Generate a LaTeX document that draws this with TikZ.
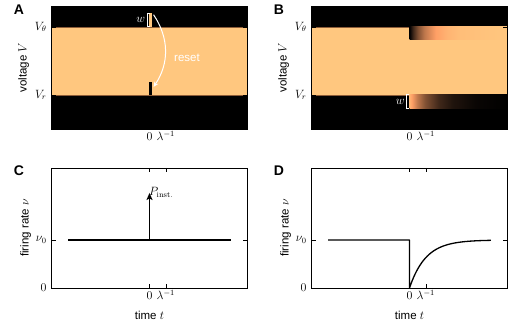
\documentclass[tikz,border=0pt]{standalone}
\usepackage{fontspec}
\newfontfamily\labfont{Liberation Sans}
\usepackage{xcolor}
\usepackage{tikz}
\usetikzlibrary{arrows.meta}

\definecolor{band}{rgb}{1,0.781,0.4975}
\definecolor{edge}{rgb}{0.55,0.36,0.22}

\pgfdeclarehorizontalshading{recover}{100bp}{rgb(0bp)=(0,0,0); rgb(25bp)=(0,0,0); rgb(26.86bp)=(0.25,0.156,0.1); rgb(29.25bp)=(0.5,0.3125,0.199); rgb(32.63bp)=(0.75,0.469,0.2985); rgb(38.42bp)=(1,0.625,0.398); rgb(44.17bp)=(1,0.703,0.448); rgb(50bp)=(1,0.742,0.473); rgb(75bp)=(1,0.781,0.4975); rgb(100bp)=(1,0.781,0.4975)}
\pgfdeclarehorizontalshading{escape}{100bp}{rgb(0bp)=(1,0.703,0.448); rgb(25bp)=(1,0.703,0.448); rgb(26.18bp)=(1,0.625,0.398); rgb(29.05bp)=(0.75,0.469,0.2985); rgb(33.11bp)=(0.5,0.3125,0.199); rgb(40.04bp)=(0.25,0.156,0.1); rgb(46.97bp)=(0.125,0.078,0.05); rgb(59bp)=(0.0375,0.023,0.015); rgb(75bp)=(0,0,0); rgb(100bp)=(0,0,0)}

\begin{document}
\begin{tikzpicture}[x=1pt, y=1pt,
  spine/.style={line width=0.9pt, black},
  tickmark/.style={line width=0.6pt, black},
  trace/.style={line width=1.3pt, black, line join=round},
  ticklabel/.style={font={\fontsize{12}{14}\selectfont}, inner sep=1pt},
  axlabel/.style={font={\labfont\fontsize{11.5}{14}\selectfont}},
  panel/.style={font={\labfont\bfseries\fontsize{14}{16}\selectfont}},
  bracket/.style={draw=white, line width=1pt},
  resetarrow/.style={-{Stealth[length=5pt,width=4.5pt]}, white, line width=1pt}
]
\useasboundingbox (0,0) rectangle (520,321);

\node[panel] (tagA) at (19,311) {A};
\node[panel] (tagB) at (279,311) {B};
\node[panel] (tagC) at (19,150) {C};
\node[panel] (tagD) at (279,150) {D};

\begin{scope}[shift={(149.5,226)}, x=16.3pt, y=68pt]
\fill[black] (-6,-0.5) rectangle (6,1.3);
\fill[band] (-6,0) rectangle (6,1);
\draw[edge, line width=0.7pt] (-6,0) -- (6,0) (-6,1) -- (6,1);
\fill[band] (-0.02,1) rectangle (0.15,1.2);
\fill[black] (-0.02,0) rectangle (0.15,0.19);
\foreach \v in {0,1} {
  \draw[tickmark] (-6,\v) -- ++(4pt,0);
  \draw[tickmark] (6,\v) -- ++(-4pt,0);
}
\draw[spine] (-6,-0.5) rectangle (6,1.3);

\coordinate (wtopA) at (-0.15,1.2);
\coordinate (wbotA) at (-0.15,1);
\draw[bracket] ([xshift=2.5pt]wtopA) -- (wtopA) -- (wbotA) -- ([xshift=2.5pt]wbotA);
\node[ticklabel, white, anchor=east] (wA) at (-0.2,1.1) {$w$};

\coordinate (resetfrom) at (0.25,1.18);
\coordinate (resetto) at (0.25,0.12);
\draw[resetarrow] (resetfrom) to[bend left=34] (resetto);
\node[white, axlabel, anchor=west] (resetlab) at (1.3,0.54) {reset};

\node[ticklabel, anchor=east, xshift=-4pt] (vthA) at (-6,1) {$V_\theta$};
\node[ticklabel, anchor=east, xshift=-4pt] (vrA) at (-6,0) {$V_r$};
\node[ticklabel, anchor=base, yshift=-12pt] (zeroA) at (0,-0.5) {$0$};
\node[ticklabel, anchor=base, yshift=-12pt] (lamA) at (1,-0.5) {$\lambda^{-1}$};
\node[axlabel, rotate=90] (ylabA) at ([xshift=-28pt]-6,0.4) {voltage $V$};
\end{scope}

\begin{scope}[shift={(409.5,226)}, x=16.3pt, y=68pt]
\fill[black] (-6,-0.5) rectangle (6,1.3);
\fill[band] (-6,0) rectangle (6,1);
\draw[edge, line width=0.7pt] (-6,0) -- (6,0) (-6,1) -- (6,1);
\shade[shading=recover] (0,0.82) rectangle (6,1);
\shade[shading=escape] (0,-0.2) rectangle (6,0);
\foreach \v in {0,1} {
  \draw[tickmark] (-6,\v) -- ++(4pt,0);
  \draw[tickmark] (6,\v) -- ++(-4pt,0);
}
\draw[spine] (-6,-0.5) rectangle (6,1.3);

\coordinate (wtopB) at (-0.17,0);
\coordinate (wbotB) at (-0.17,-0.2);
\draw[bracket] ([xshift=2.5pt]wtopB) -- (wtopB) -- (wbotB) -- ([xshift=2.5pt]wbotB);
\node[ticklabel, white, anchor=east] (wB) at (-0.22,-0.1) {$w$};

\node[ticklabel, anchor=east, xshift=-4pt] (vthB) at (-6,1) {$V_\theta$};
\node[ticklabel, anchor=east, xshift=-4pt] (vrB) at (-6,0) {$V_r$};
\node[ticklabel, anchor=base, yshift=-12pt] (zeroB) at (0,-0.5) {$0$};
\node[ticklabel, anchor=base, yshift=-12pt] (lamB) at (1,-0.5) {$\lambda^{-1}$};
\node[axlabel, rotate=90] (ylabB) at ([xshift=-28pt]-6,0.4) {voltage $V$};
\end{scope}

\begin{scope}[shift={(149.5,33)}, x=16.3pt, y=48pt]
\draw[spine] (-6,0) rectangle (6,2.5);
\foreach \t in {0,1} {
  \draw[tickmark] (\t,0) -- ++(0,4pt);
  \draw[tickmark] (\t,2.5) -- ++(0,-4pt);
}
\draw[tickmark] (-6,1) -- ++(4pt,0);
\draw[tickmark] (6,1) -- ++(-4pt,0);

\draw[trace] (-5,1) -- (5,1);
\coordinate (pulsefoot) at (0,1);
\coordinate (pulsetop) at (0,1.98);
\draw[trace, -{Stealth[length=7pt,width=6pt,inset=1.5pt]}] (pulsefoot) -- (pulsetop);
\node[ticklabel, anchor=base west] (pinst) at (-0.1,1.93) {$P_{\mathrm{inst.}}$};

\node[ticklabel, anchor=east, xshift=-4pt] (nuC) at (-6,1) {$\nu_0$};
\node[ticklabel, anchor=east, xshift=-4pt] (zeroyC) at (-6,0) {$0$};
\node[ticklabel, anchor=base, yshift=-12pt] (zeroC) at (0,0) {$0$};
\node[ticklabel, anchor=base, yshift=-12pt] (lamC) at (1,0) {$\lambda^{-1}$};
\node[axlabel] (xlabC) at ([yshift=-27pt]0,0) {time $t$};
\node[axlabel, rotate=90] (ylabC) at ([xshift=-26pt]-6,1.25) {firing rate $\nu$};
\end{scope}

\begin{scope}[shift={(409.5,33)}, x=16.3pt, y=48pt]
\draw[spine] (-6,0) rectangle (6,2.5);
\foreach \t in {0,1} {
  \draw[tickmark] (\t,0) -- ++(0,4pt);
  \draw[tickmark] (\t,2.5) -- ++(0,-4pt);
}
\draw[tickmark] (-6,1) -- ++(4pt,0);
\draw[tickmark] (6,1) -- ++(-4pt,0);

\draw[trace] (-5,1) -- (0,1) -- (0,0) -- plot[domain=0:5, samples=60] (\x,{1-exp(-\x)});

\node[ticklabel, anchor=east, xshift=-4pt] (nuD) at (-6,1) {$\nu_0$};
\node[ticklabel, anchor=east, xshift=-4pt] (zeroyD) at (-6,0) {$0$};
\node[ticklabel, anchor=base, yshift=-12pt] (zeroD) at (0,0) {$0$};
\node[ticklabel, anchor=base, yshift=-12pt] (lamD) at (1,0) {$\lambda^{-1}$};
\node[axlabel] (xlabD) at ([yshift=-27pt]0,0) {time $t$};
\node[axlabel, rotate=90] (ylabD) at ([xshift=-26pt]-6,1.25) {firing rate $\nu$};
\end{scope}
\end{tikzpicture}
\end{document}
